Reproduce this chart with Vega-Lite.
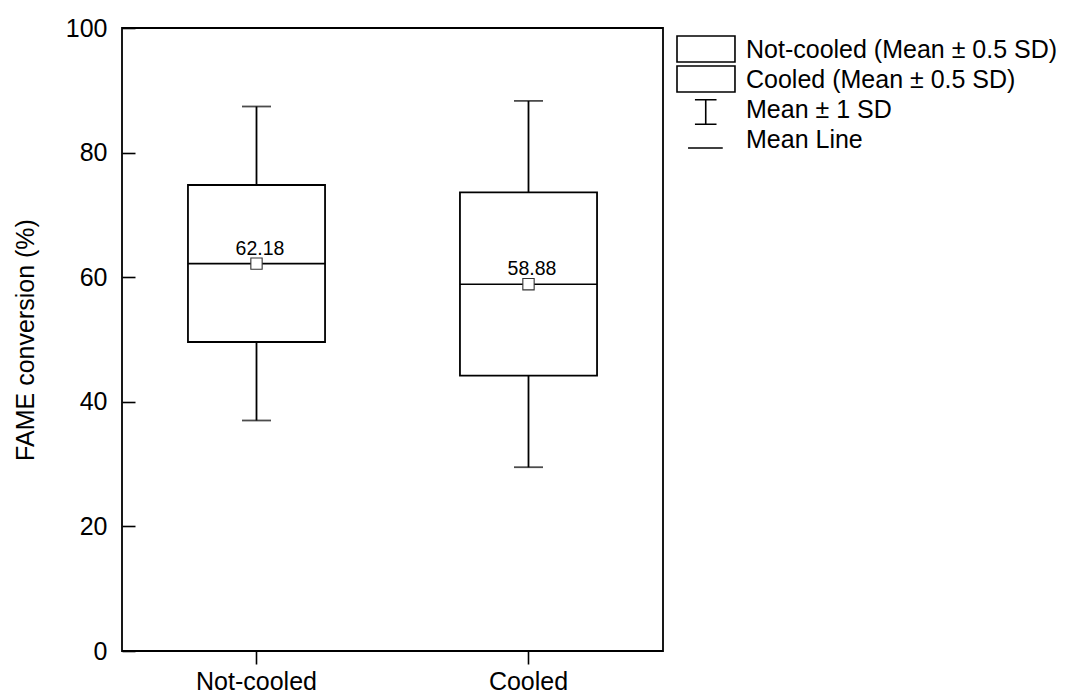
{
  "$schema": "https://vega.github.io/schema/vega-lite/v6.json",
  "width": 541,
  "height": 623,
  "autosize": "none",
  "padding": {"left": 122, "top": 28, "right": 413, "bottom": 44},
  "background": "white",
  "data": {
    "values": [
      {"group": "Not-cooled", "mean": 62.18, "boxLow": 49.6, "boxHigh": 74.8, "whiskLow": 37.0, "whiskHigh": 87.4},
      {"group": "Cooled", "mean": 58.88, "boxLow": 44.2, "boxHigh": 73.6, "whiskLow": 29.5, "whiskHigh": 88.3}
    ]
  },
  "encoding": {
    "x": {
      "field": "group", "type": "nominal", "sort": ["Not-cooled", "Cooled"], "title": null,
      "scale": {"paddingInner": 0.496, "paddingOuter": 0.2425}
    }
  },
  "layer": [
    {
      "mark": {"type": "rule", "color": "black", "strokeWidth": 1.8},
      "encoding": {
        "y": {"field": "whiskLow", "type": "quantitative", "title": "FAME conversion (%)", "scale": {"domain": [0, 100], "nice": false}, "axis": {"values": [0, 20, 40, 60, 80, 100]}},
        "y2": {"field": "whiskHigh"}
      }
    },
    {
      "mark": {"type": "tick", "color": "black", "size": 29, "thickness": 1.8},
      "encoding": {"y": {"field": "whiskHigh", "type": "quantitative", "title": "FAME conversion (%)"}}
    },
    {
      "mark": {"type": "tick", "color": "black", "size": 29, "thickness": 1.8},
      "encoding": {"y": {"field": "whiskLow", "type": "quantitative", "title": "FAME conversion (%)"}}
    },
    {
      "mark": {"type": "bar", "fill": "white", "stroke": "black", "strokeWidth": 1.8},
      "encoding": {
        "y": {"field": "boxLow", "type": "quantitative", "title": "FAME conversion (%)"},
        "y2": {"field": "boxHigh"}
      }
    },
    {
      "mark": {"type": "bar", "fill": "transparent", "stroke": "black", "strokeWidth": 1.6},
      "encoding": {
        "y": {"field": "mean", "type": "quantitative", "title": "FAME conversion (%)"},
        "y2": {"field": "mean"}
      }
    },
    {
      "mark": {"type": "point", "shape": "square", "size": 128, "filled": true, "fill": "white", "stroke": "#333333", "strokeWidth": 1.1, "opacity": 1},
      "encoding": {"y": {"field": "mean", "type": "quantitative", "title": "FAME conversion (%)"}}
    },
    {
      "mark": {"type": "text", "color": "black", "fontSize": 19.5, "font": "Liberation Sans", "baseline": "alphabetic", "align": "center", "dy": -9, "dx": 3.5},
      "encoding": {
        "y": {"field": "mean", "type": "quantitative", "title": "FAME conversion (%)"},
        "text": {"field": "mean", "type": "quantitative", "format": ".2f"}
      }
    },
    {
      "data": {
        "values": [
          {"entry": "Not-cooled (Mean ± 0.5 SD)"},
          {"entry": "Cooled (Mean ± 0.5 SD)"},
          {"entry": "Mean ± 1 SD"},
          {"entry": "Mean Line"}
        ]
      },
      "mark": {"type": "point", "filled": false, "opacity": 0, "color": "black"},
      "encoding": {
        "x": null,
        "shape": {
          "field": "entry", "type": "nominal",
          "scale": {
            "domain": ["Not-cooled (Mean ± 0.5 SD)", "Cooled (Mean ± 0.5 SD)", "Mean ± 1 SD", "Mean Line"],
            "range": ["M-1,-1.077H3.46V0.923H-1Z", "M-1,-1.077H3.46V0.923H-1Z", "M0.38,-0.79H2.04M1.21,-0.79V1.1M0.38,1.1H2.04", "M-0.15,0.615H2.52"]
          },
          "legend": {
            "orient": "none", "legendX": 554, "legendY": 7, "title": null,
            "symbolSize": 676, "symbolStrokeWidth": 1.6, "symbolStrokeColor": "black",
            "labelFontSize": 25, "labelFont": "Liberation Sans", "labelColor": "black", "labelLimit": 600,
            "labelOffset": 42, "rowPadding": 0, "padding": 0, "clipHeight": 30,
            "encode": {
              "symbols": {"update": {"opacity": {"value": 1}, "stroke": {"value": "black"}, "fill": {"value": "transparent"}, "strokeWidth": {"value": 1.6}}},
              "labels": {"update": {"dy": {"value": -2}}}
            }
          }
        }
      }
    }
  ],
  "config": {
    "font": "Liberation Sans",
    "view": {"stroke": "black", "strokeWidth": 1.8},
    "axis": {
      "domain": false, "grid": false, "tickColor": "black", "tickWidth": 1.6,
      "labelColor": "black", "labelFontSize": 25, "labelFont": "Liberation Sans",
      "titleColor": "black", "titleFontSize": 25, "titleFontWeight": "normal", "titleFont": "Liberation Sans"
    },
    "axisY": {"tickSize": 13, "offset": -13, "labelPadding": 15, "titlePadding": 27},
    "axisX": {"tickSize": 13, "labelPadding": 5, "labelAngle": 0}
  }
}
